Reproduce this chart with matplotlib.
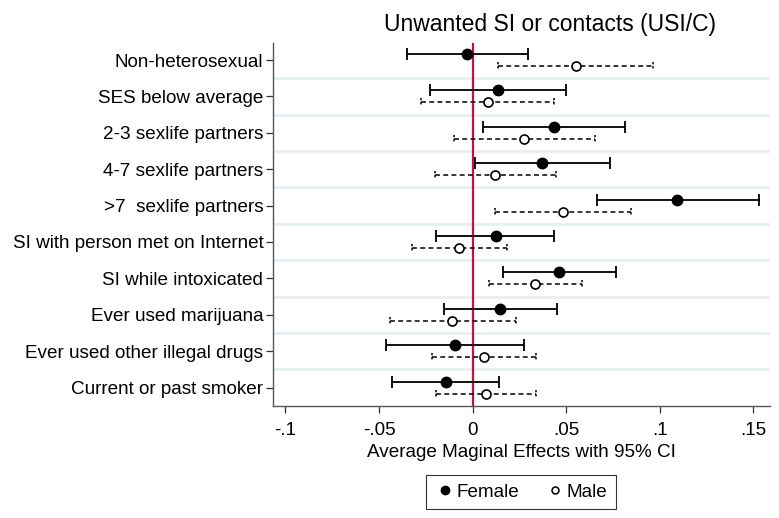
import numpy as np
import matplotlib.pyplot as plt
from matplotlib.lines import Line2D

plt.rcParams['font.family'] = ['Liberation Sans', 'DejaVu Sans']

labels = ['Non-heterosexual', 'SES below average', '2-3 sexlife partners',
          '4-7 sexlife partners', '>7  sexlife partners',
          'SI with person met on Internet', 'SI while intoxicated',
          'Ever used marijuana', 'Ever used other illegal drugs',
          'Current or past smoker']

# female estimates and 95% CI
f_est = [-0.0029, 0.0135, 0.0435, 0.0371, 0.1094, 0.0125, 0.0463, 0.0146, -0.0091, -0.0144]
f_lo = [-0.0350, -0.0225, 0.0055, 0.0014, 0.0663, -0.0193, 0.0162, -0.0155, -0.0460, -0.0430]
f_hi = [0.0294, 0.0499, 0.0814, 0.0736, 0.1531, 0.0438, 0.0768, 0.0449, 0.0273, 0.0141]

# male estimates and 95% CI
m_est = [0.0551, 0.0082, 0.0276, 0.0121, 0.0481, -0.0072, 0.0333, -0.0107, 0.0062, 0.0071]
m_lo = [0.0134, -0.0275, -0.0100, -0.0200, 0.0121, -0.0326, 0.0087, -0.0441, -0.0216, -0.0193]
m_hi = [0.0966, 0.0438, 0.0654, 0.0445, 0.0845, 0.0183, 0.0583, 0.0230, 0.0340, 0.0337]

xticks = [-0.1, -0.05, 0, 0.05, 0.1, 0.15]
xticklabels = ['-.1', '-.05', '0', '.05', '.1', '.15']

pos = np.arange(len(labels))
yf = pos - 0.165
ym = pos + 0.165

fig = plt.figure(figsize=(7.79, 5.18), dpi=100)
ax = fig.add_axes([0.3505, 0.2168, 0.638, 0.7002])

# row separators
for b in pos[:-1] + 0.5:
    ax.axhline(b, color='#e7eff3', lw=2, zorder=0)

ax.axvline(0, color='#c0143c', lw=1.6, zorder=1)

# female: solid bars, filled dots
ax.errorbar(f_est, yf, xerr=[np.array(f_est) - f_lo, np.array(f_hi) - f_est],
            fmt='o', color='black', ms=7.5, lw=1.3, capsize=4, capthick=1.3, zorder=3)

# male: dashed bars, hollow dots
ax.hlines(ym, m_lo, m_hi, colors='black', lw=1.1, linestyles=(0, (3.2, 2.2)), zorder=2)
ax.vlines(m_lo, ym - 0.11, ym + 0.11, colors='black', lw=1.1, linestyles=(0, (1.5, 1.2)), zorder=2)
ax.vlines(m_hi, ym - 0.11, ym + 0.11, colors='black', lw=1.1, linestyles=(0, (1.5, 1.2)), zorder=2)
ax.plot(m_est, ym, 'o', mfc='white', mec='black', ms=6.5, mew=1.2, ls='none', zorder=3)

ax.set_xlim(-0.1066, 0.159)
ax.set_ylim(9.5, -0.47)
ax.set_yticks(pos)
ax.set_yticklabels(labels, fontsize=13.6)
ax.set_xticks(xticks)
ax.set_xticklabels(xticklabels, fontsize=13.6)
ax.tick_params(axis='both', direction='out', length=5, width=0.9, color='#333333')
ax.tick_params(axis='x', pad=7)
ax.tick_params(axis='y', pad=2)
ax.set_xlabel('Average Maginal Effects with 95% CI', fontsize=13.6, labelpad=3)
fig.text(550 / 779, 1 - 31 / 518, 'Unwanted SI or contacts (USI/C)', fontsize=16.5,
         ha='center', va='baseline')

for s in ['top', 'right']:
    ax.spines[s].set_visible(False)
for s in ['left', 'bottom']:
    ax.spines[s].set_color('#555555')
    ax.spines[s].set_linewidth(1.0)

handles = [Line2D([], [], marker='o', ls='none', color='black', ms=6),
           Line2D([], [], marker='o', ls='none', mfc='white', mec='black', ms=5, mew=1.1)]
leg = fig.legend(handles, ['Female', 'Male'], ncol=2, loc='center',
                 bbox_to_anchor=(521 / 779, 1 - 492 / 518), fontsize=13.6,
                 frameon=True, fancybox=False, edgecolor='black',
                 handletextpad=0.1, columnspacing=1.3, handlelength=1.1,
                 borderpad=0.45, borderaxespad=0)
leg.get_frame().set_linewidth(0.8)

fig.savefig('out.png', dpi=100)
